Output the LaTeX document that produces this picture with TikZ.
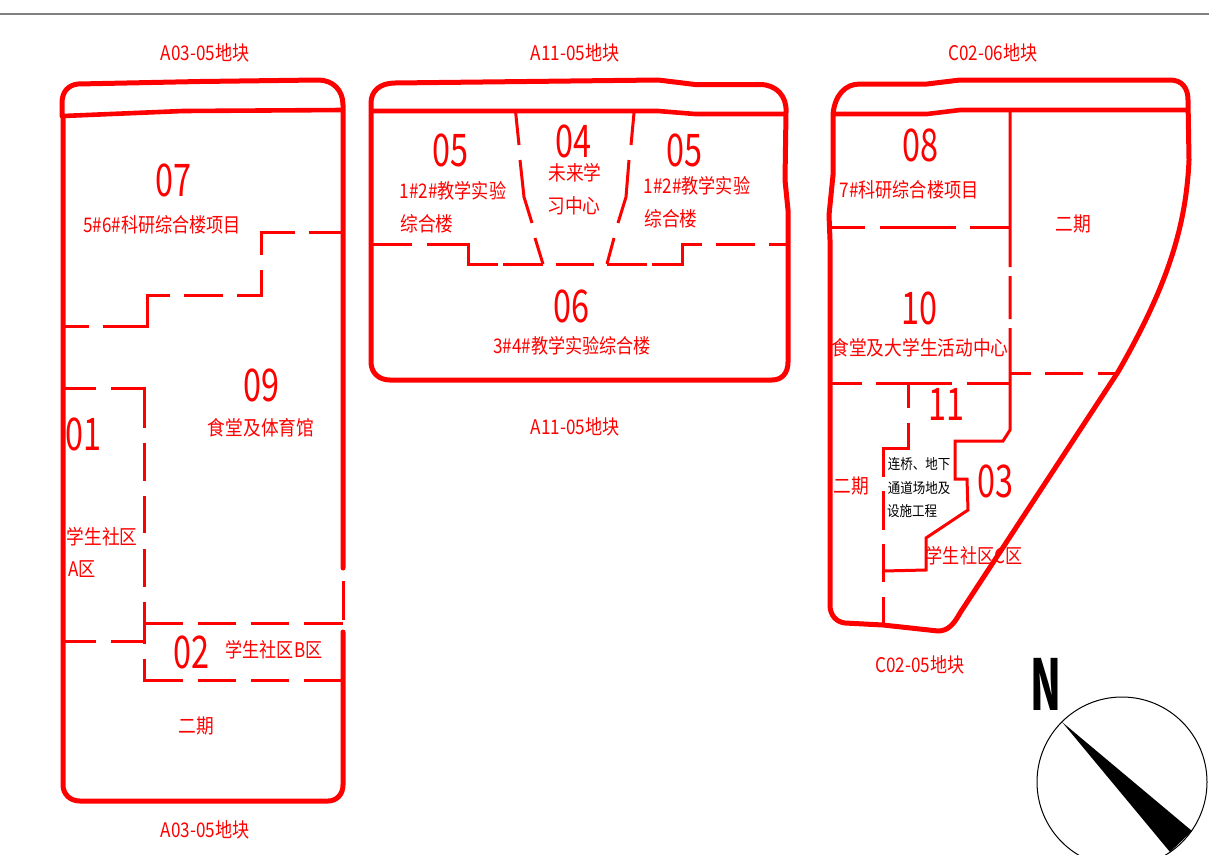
\documentclass[tikz,border=0pt]{standalone}
\usepackage{fontspec}
\setmainfont{Noto Sans CJK SC}
\definecolor{plotred}{RGB}{255,0,0}
\begin{document}
\begin{tikzpicture}[x=1pt,y=-1pt,
                edge/.style={draw=plotred,line width=5pt,line join=round,line cap=round},
                band/.style={draw=plotred,line width=4.6pt},
                seam/.style={draw=plotred,line width=3pt},
                lbl/.style={text=plotred,inner sep=0pt,font=\fontsize{18}{18}\selectfont,xscale=.95,yscale=1.12,transform shape},
                widelbl/.style={lbl,xscale=1.035},
                smalllbl/.style={text=black,inner sep=0pt,font=\fontsize{12.5}{12.5}\selectfont,yscale=1.15,transform shape},
                num/.style={text=plotred,inner sep=0pt,font=\fontsize{45}{45}\selectfont,xscale=.72,transform shape}]
    \useasboundingbox (0,0) rectangle (1209,854);
    \draw[gray,line width=1.5pt] (0,14) -- (1209,14);

    % left plot
    \draw[edge] (62,116) -- (62,103) .. controls (62,92) and (68,85) .. (78,84) -- (200,81.5) -- (318,80)
        .. controls (333,80) and (343,90) .. (343,105) -- (343,568);
    \draw[edge] (343,632) -- (343,785) .. controls (343,795) and (336,801) .. (328,801) -- (80,801)
        .. controls (70,801) and (63,794) .. (63,785) -- (63,116);
    \draw[seam] (343,581) -- (343,620);
    \draw[band] (63,116) -- (183,111) -- (343,110);
    \draw[seam] (343,232) -- (309,232) (295,232) -- (261,232) -- (261,255) (261,270) -- (261,295) -- (237,295)
        (223,295) -- (184,295) (170,295) -- (147,295) -- (147,326) -- (103,326) (89,326) -- (63,326);
    \draw[seam] (63,388) -- (96,388) (111,388) -- (144,388) -- (144,428) (144,443) -- (144,481)
        (144,496) -- (144,533) (144,549) -- (144,587) (144,602) -- (144,644) (144,659) -- (144,680) -- (183,680)
        (198,680) -- (236,680) (251,680) -- (289,680) (304,680) -- (343,680);
    \draw[seam] (144,623) -- (183,623) (198,623) -- (236,623) (251,623) -- (289,623) (304,623) -- (343,623);
    \draw[seam] (63,641) -- (96,641) (111,641) -- (144,641);

    % middle plot
    \draw[edge] (371,111) -- (371,103) .. controls (371,91) and (380,83) .. (395,83) -- (658,80) -- (695,84.5) -- (760,84.5)
        .. controls (776,84.5) and (787,96) .. (786,112) -- (785,180) -- (788,210) -- (788,362)
        .. controls (788,373) and (782,380) .. (772,380) -- (390,380) .. controls (379,380) and (371,373) .. (371,362) -- cycle;
    \draw[band] (371,111) -- (658,111) -- (695,114) -- (786,114);
    \draw[seam] (515.7,113) -- (519,145) (520,160) -- (524,197) -- (532,223) (535,238) -- (543,264);
    \draw[seam] (634,113) -- (631,145) (629,160) -- (626,197) -- (618,223) (614,238) -- (607,264);
    \draw[seam] (371,244) -- (412,244) (427,244) -- (468,244) -- (468,264) -- (498,264) (503,264) -- (543,264)
        (556,264) -- (594,264) (607,264) -- (647,264) (652,264) -- (682,264) -- (682,244) -- (702,244)
        (716,244) -- (755,244) (769,244) -- (787,244);

    % right plot
    \draw[edge] (833,114) .. controls (835,95) and (845,84) .. (860,84) -- (927,84) -- (960,80) -- (1170,80)
        .. controls (1182,80) and (1188,88) .. (1188,100) -- (1189,160)
        .. controls (1186,230) and (1165,290) .. (1118,372) -- (960,613)
        .. controls (954,624) and (948,631) .. (938,631) -- (883,625) -- (845,623)
        .. controls (836,622) and (830,615) .. (830,605) -- (830,240) -- (829,215) -- (833,175) -- cycle;
    \draw[band] (833,114) -- (927,114) -- (960,110) -- (1189,110);
    \draw[seam] (832,227) -- (865,227) (880,227) -- (956,227) (970,227) -- (1010,227);
    \draw[seam] (1010,112) -- (1010,267) (1010,276) -- (1010,319) (1010,328) -- (1010,430) -- (1003,441) -- (955,441)
        -- (955,479) -- (967,479) -- (968,510) -- (926,538) -- (926,570) -- (883,571);
    \draw[seam] (1010,373) -- (1031,373) (1045,373) -- (1083,373) (1098,373) -- (1118,373);
    \draw[seam] (830,383) -- (862,383) (876,383) -- (952,383) (967,383) -- (1010,383);
    \draw[seam] (908,383) -- (908,408) (908,423) -- (908,448) -- (883,448) -- (883,477) (883,491) -- (883,530)
        (883,544) -- (883,582) (883,597) -- (883,625);

    % plot names
    \node[lbl] (a03n) at (205,53) {A03-05地块};
    \node[lbl] (a03s) at (205,830) {A03-05地块};
    \node[lbl] (a11n) at (575,53) {A11-05地块};
    \node[lbl] (a11s) at (575,427) {A11-05地块};
    \node[lbl] (c06) at (993,53) {C02-06地块};
    \node[lbl] (c05) at (920,665) {C02-05地块};

    % left labels
    \node[num] (n07) at (173,180) {07};
    \node[lbl] (t07) at (162,225) {5\#6\#科研综合楼项目};
    \node[num] (n09) at (261,385) {09};
    \node[widelbl] (t09) at (261,428) {食堂及体育馆};
    \node[num] (n01) at (83,434) {01};
    \node[widelbl] (t01a) at (102,537) {学生社区};
    \node[lbl] (t01b) at (82,569) {A区};
    \node[num] (n02) at (191,652) {02};
    \node[lbl] (t02) at (274,650) {学生社区B区};
    \node[widelbl] (p2a) at (196,726) {二期};

    % middle labels
    \node[num] (n05a) at (450,150) {05};
    \node[lbl] (t05a) at (453,191) {1\#2\#教学实验};
    \node[widelbl] (t05b) at (427,224) {综合楼};
    \node[num] (n04) at (573,141) {04};
    \node[widelbl] (t04a) at (575,173) {未来学};
    \node[widelbl] (t04b) at (574,206) {习中心};
    \node[num] (n05b) at (684,150) {05};
    \node[lbl] (t05c) at (697,186) {1\#2\#教学实验};
    \node[widelbl] (t05d) at (671,219) {综合楼};
    \node[num] (n06) at (571,306) {06};
    \node[lbl] (t06) at (572,346) {3\#4\#教学实验综合楼};

    % right labels
    \node[num] (n08) at (920,145) {08};
    \node[lbl] (t08) at (909,190) {7\#科研综合楼项目};
    \node[widelbl] (p2b) at (1073,224) {二期};
    \node[num] (n10) at (919,308) {10};
    \node[widelbl] (t10) at (920,348) {食堂及大学生活动中心};
    \node[num] (n11) at (946,404) {11};
    \node[widelbl] (p2c) at (851,486) {二期};
    \node[smalllbl] (t11a) at (919,464) {连桥、地下};
    \node[smalllbl] (t11b) at (919,488) {通道场地及};
    \node[smalllbl] (t11c) at (912,511) {设施工程};
    \node[num] (n03) at (995,481) {03};
    \node[lbl] (t03) at (974,556) {学生社区C区};

    % north arrow
    \draw[black,line width=1pt] (1122,782) circle (85);
    \fill[black] (1062,722) -- (1192,831) -- (1170,852) -- cycle;
    \node[inner sep=0pt,font=\bfseries\fontsize{70}{70}\selectfont,xscale=.58,transform shape] (north) at (1046,684) {N};
\end{tikzpicture}
\end{document}
